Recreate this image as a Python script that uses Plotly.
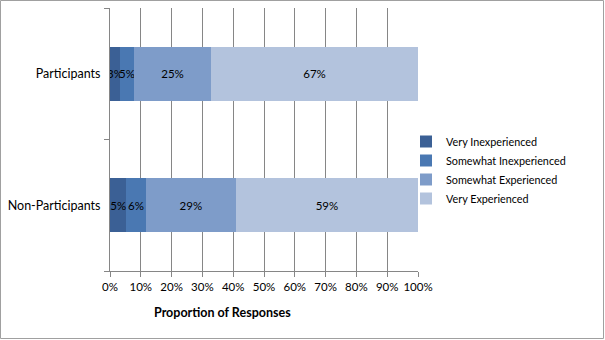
import plotly.graph_objects as go

categories = ["Participants", "Non-Participants"]
series_names = ["Very Inexperienced", "Somewhat Inexperienced", "Somewhat Experienced", "Very Experienced"]
participants = [3.2, 4.6, 25.0, 67.2]
non_participants = [5.3, 6.3, 29.3, 59.1]
colors = ["#3B6095", "#4A78B2", "#7E9CC9", "#B3C3DD"]
x_ticks = list(range(0, 101, 10))
x_tick_labels = [f"{v}%" for v in x_ticks]

W, H = 605, 340
L, R, T, B = 110, 187, 8, 69
pw, ph = W - L - R, H - T - B
font = "Lato, 'Open Sans', sans-serif"

fig = go.Figure()
for i, name in enumerate(series_names):
    vals = [participants[i], non_participants[i]]
    fig.add_trace(go.Bar(
        y=categories, x=vals, name=name, orientation="h",
        marker=dict(color=colors[i], line=dict(width=0)),
        text=[f"{round(v)}%" for v in vals],
        textposition="inside", insidetextanchor="middle", constraintext="none",
        textangle=0,
        insidetextfont=dict(color="#000000", size=11.5, family=font),
        hoverinfo="skip",
    ))

fig.update_layout(
    width=W, height=H, barmode="stack", bargap=0.59,
    margin=dict(l=L, r=R, t=T, b=B),
    paper_bgcolor="white", plot_bgcolor="white",
    font=dict(family=font, size=12, color="#000000"),
    showlegend=True,
    legend=dict(x=(406 - L) / pw, y=(T + ph - 127) / ph, xanchor="left", yanchor="top",
                traceorder="normal", font=dict(size=10.8, family=font),
                itemwidth=30, tracegroupgap=0, bgcolor="rgba(0,0,0,0)"),
    xaxis=dict(range=[0, 100], tickvals=x_ticks, ticktext=x_tick_labels,
               showgrid=True, gridcolor="#868686", gridwidth=1,
               showline=True, linecolor="#868686", ticks="outside", ticklen=5,
               tickcolor="#868686", zeroline=False, fixedrange=True,
               tickfont=dict(size=11.5)),
    yaxis=dict(categoryorder="array", categoryarray=categories[::-1],
               tickson="boundaries", ticks="outside", ticklen=5, tickcolor="#868686",
               showline=True, linecolor="#868686", showgrid=False, zeroline=False,
               ticklabelstandoff=6, tickfont=dict(size=12.5)),
)

fig.add_annotation(text="<b>Proportion of Responses</b>", xref="paper", yref="paper",
                   x=(222 - L) / pw, y=(T + ph - 312) / ph, showarrow=False,
                   font=dict(size=12.5, family=font), xanchor="center", yanchor="middle")

fig.add_shape(type="rect", xref="paper", yref="paper",
              x0=(0.5 - L) / pw, x1=(W - 1.5 - L) / pw,
              y0=(T + ph - (H - 1.5)) / ph, y1=(T + ph - 0.5) / ph,
              line=dict(color="#A0A0A0", width=1), fillcolor="rgba(0,0,0,0)", layer="below")

fig.write_html("out.html")
